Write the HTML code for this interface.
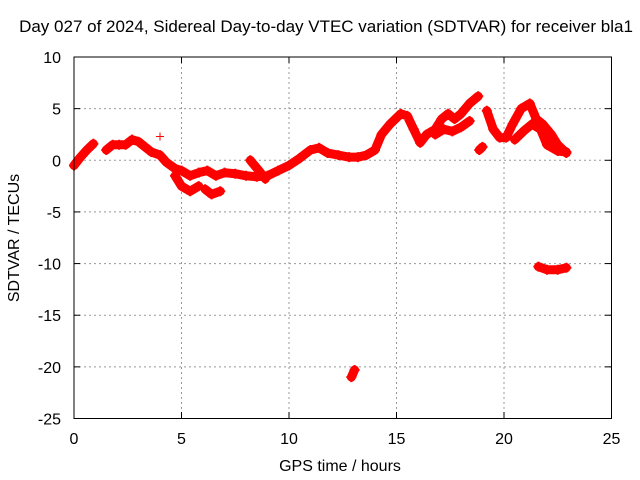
<!DOCTYPE html>
<html><head><meta charset="utf-8"><style>
body{margin:0;background:#fff;}
svg{display:block;font-family:"Liberation Sans",sans-serif;}
</style></head><body>
<svg id="chart" width="640" height="480">
<text x="326" y="32" font-size="17" text-anchor="middle">Day 027 of 2024, Sidereal Day-to-day VTEC variation (SDTVAR) for receiver bla1</text>
<text x="340" y="471" font-size="16" text-anchor="middle">GPS time / hours</text>
<text transform="translate(19,238) rotate(-90)" font-size="16" text-anchor="middle">SDTVAR / TECUs</text>
<g id="grid"></g><g id="data"></g>
<rect x="74" y="57" width="537.5" height="361.5" fill="none" stroke="#000" stroke-width="1"/>
</svg>
<script>
const xTicks=[0,5,10,15,20,25];
const yTicks=[10,5,0,-5,-10,-15,-20,-25];
const mainSegA=[[0,-0.5],[0.3,0.3],[0.6,1.0],[0.9,1.6]];
const mainSegB=[[1.5,1.0],[1.8,1.5],[2.1,1.5],[2.4,1.5],[2.7,2.0],[3.0,1.8],[3.3,1.3],[3.6,0.8],[4.0,0.5],[4.3,-0.2],[4.7,-0.8],[5.0,-1.0],[5.4,-1.5],[5.8,-1.2],[6.2,-1.0],[6.6,-1.5],[7.0,-1.2],[7.5,-1.3],[8.0,-1.5],[8.5,-1.6],[9.0,-1.5],[9.5,-1.0],[10.0,-0.5],[10.5,0.2],[11.0,1.0],[11.4,1.2],[11.8,0.7],[12.3,0.5],[12.8,0.3],[13.2,0.3],[13.6,0.5],[14.0,1.0],[14.3,2.5],[14.7,3.5],[15.2,4.5],[15.5,4.3],[15.8,3.0],[16.1,1.7],[16.4,2.5],[16.8,3.0],[17.1,4.0],[17.4,4.5],[17.7,4.0],[18.0,4.5],[18.4,5.5],[18.8,6.2]];
const mainSegC=[[19.2,4.8],[19.5,3.0],[19.8,2.2],[20.1,2.2],[20.4,3.5],[20.8,5.0],[21.2,5.5],[21.5,4.0],[21.8,3.5],[22.2,2.5],[22.5,1.5],[22.9,0.7]];
const branch1=[[4.7,-1.5],[5.0,-2.5],[5.4,-3.0],[5.8,-2.5]];
const branch2=[[6.1,-2.8],[6.4,-3.3],[6.8,-3.0]];
const branch3=[[8.2,0.0],[8.6,-1.0],[8.9,-1.8]];
const branch4=[[16.8,2.5],[17.2,3.0],[17.6,2.8],[18.0,3.2],[18.4,3.8]];
const branch5=[[20.5,2.0],[20.9,2.8],[21.3,3.5],[21.7,3.0],[22.0,1.5],[22.5,0.9],[22.9,0.8]];
const branch6=[[18.85,1.0],[19.0,1.3]];
const outlier1=[[4.0,2.3]];
const outlier2=[[12.9,-21.0],[13.05,-20.3]];
const outlier3=[[21.6,-10.3],[22.0,-10.6],[22.5,-10.6],[22.9,-10.4]];
const series=[mainSegA,mainSegB,mainSegC,branch1,branch2,branch3,branch4,branch5,branch6,outlier2,outlier3];
const NS="http://www.w3.org/2000/svg";
const X=t=>74+t*537.5/25;
const Y=v=>57+(10-v)*361.5/35;
const grid=document.getElementById('grid'),data=document.getElementById('data');
function mk(tag,attrs,parent){const e=document.createElementNS(NS,tag);for(const k in attrs)e.setAttribute(k,attrs[k]);parent.appendChild(e);return e;}
xTicks.forEach(t=>{
 const x=X(t);
 if(t>0&&t<25){const l=mk('line',{x1:x,x2:x,y1:57,y2:418.5,stroke:'#999','stroke-dasharray':'2,3'},grid);
 
 }
 const tx=mk('text',{x:x,y:444,'font-size':16,'text-anchor':'middle'},grid);tx.textContent=t;
 
 
 mk('line',{x1:x,x2:x,y1:418.5,y2:412,stroke:'#000'},grid);mk('line',{x1:x,x2:x,y1:57,y2:63,stroke:'#000'},grid);
});
yTicks.forEach(v=>{
 const y=Y(v);
 if(v<10&&v>-25){const l=mk('line',{x1:74,x2:611.5,y1:y,y2:y,stroke:'#999','stroke-dasharray':'2,3'},grid);
 
 }
 const tx=mk('text',{x:61,y:y+6,'font-size':16,'text-anchor':'end'},grid);tx.textContent=v;
 
 
 mk('line',{x1:74,x2:80,y1:y,y2:y,stroke:'#000'},grid);mk('line',{x1:611.5,x2:605,y1:y,y2:y,stroke:'#000'},grid);
});
series.forEach(s=>{
 if(s.length>1){const p=mk('polyline',{points:s.map(d=>X(d[0])+','+Y(d[1])).join(' '),fill:'none',stroke:'#f00','stroke-width':9,'stroke-linejoin':'round','stroke-linecap':'round'},data);
 
 }
 s.forEach(d=>{const g=mk('path',{d:`M${X(d[0])-5},${Y(d[1])}h10M${X(d[0])},${Y(d[1])-5}v10`,stroke:'#f00','stroke-width':2},data);
 
 });
});
outlier1.forEach(d=>{const g=mk('path',{d:`M${X(d[0])-4},${Y(d[1])}h8M${X(d[0])},${Y(d[1])-4}v8`,stroke:'#f00','stroke-width':1},data);
 
 });
</script>
</body></html>
